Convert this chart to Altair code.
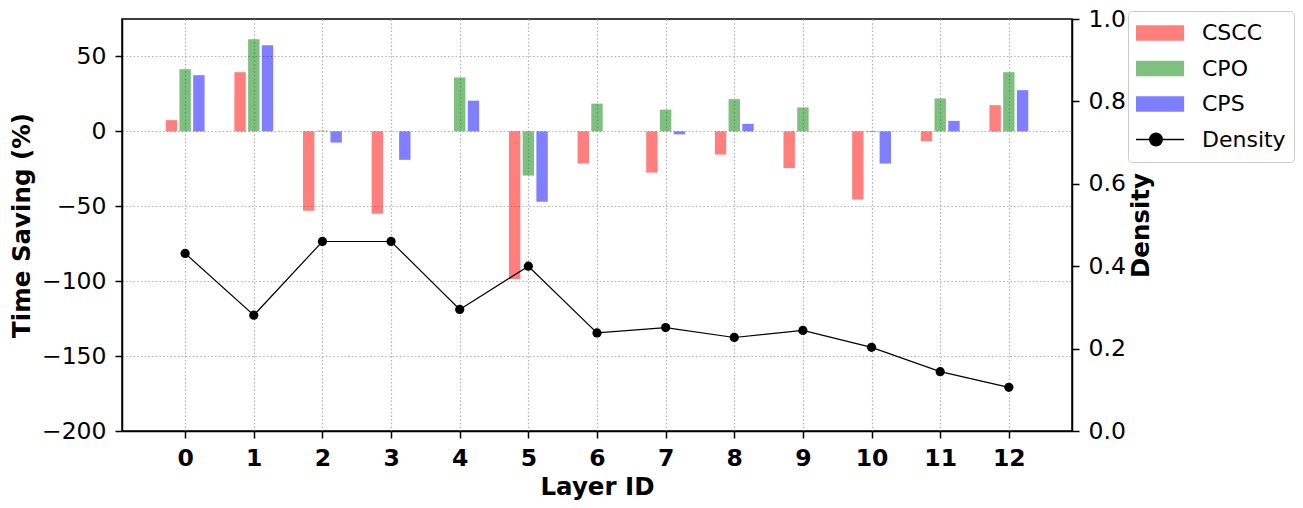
import altair as alt
import pandas as pd

# ---- data ----
layer_ids = list(range(13))
series_names = ["CSCC", "CPO", "CPS"]
cscc = [7.5, 39.5, -53, -55, 0, -98.5, -21.5, -27.5, -15.5, -24.5, -45.5, -6.5, 17.5]
cpo = [41.5, 61.5, 0.5, 0, 36, -29.5, 18.5, 14.5, 21.5, 16, -0.5, 22, 39.5]
cps = [37.5, 57.5, -7.5, -19, 20.5, -47, 0, -2, 5, 0, -21.5, 7, 27.5]
density = [0.431, 0.281, 0.460, 0.460, 0.295, 0.400, 0.238, 0.251, 0.227, 0.244, 0.203, 0.144, 0.106]
left_ticks = [-200, -150, -100, -50, 0, 50]
right_ticks = [0.0, 0.2, 0.4, 0.6, 0.8, 1.0]

rows = []
for name, vals in zip(series_names, [cscc, cpo, cps]):
    for lid, v in zip(layer_ids, vals):
        rows.append({"layer": lid, "series": name, "value": v})
bar_df = pd.DataFrame(rows)
dens_df = pd.DataFrame({"layer": layer_ids, "density": density})

FONT = "DejaVu Sans"
LABEL_SIZE = 23.5
TITLE_SIZE = 24.5
GRID_DASH = [1.5, 2.2]
GRID_COLOR = "#b0b0b0"

x_scale = alt.Scale(domain=[-0.92, 12.92], nice=False, zero=False)
x_axis = alt.Axis(
    title="Layer ID", values=layer_ids, format="d",
    labelFontWeight="bold", labelFontSize=LABEL_SIZE, labelFont=FONT, labelPadding=8,
    titleFontSize=TITLE_SIZE, titleFont=FONT, titleFontWeight="bold", titlePadding=6,
    grid=True, gridDash=GRID_DASH, gridColor=GRID_COLOR, gridWidth=1.2,
)

color_scale = alt.Scale(
    domain=["CSCC", "CPO", "CPS", "Density"],
    range=["#ff0000", "#008000", "#0000ff", "#000000"],
)

bar_path = "M-1.25,-0.34H1.25V0.34H-1.25Z"
dens_path = "M-1.25,0H1.25M0.28,0A0.28,0.28,0,1,1,-0.28,0A0.28,0.28,0,1,1,0.28,0Z"

legend = alt.Legend(
    title=None, orient="none", legendX=1006, legendY=-8,
    padding=8, symbolSize=2025, clipHeight=28, rowPadding=7.5,
    labelFontSize=22, labelFont=FONT, labelColor="black", labelOffset=35,
    labelLimit=300, symbolOffset=9,
    strokeColor="#cccccc", fillColor="white", cornerRadius=4,
    symbolType={"expr": "datum.value === 'Density' ? '" + dens_path + "' : '" + bar_path + "'"},
    symbolStrokeColor={"expr": "datum.value === 'Density' ? 'black' : 'transparent'"},
    symbolStrokeWidth={"expr": "datum.value === 'Density' ? 1.3 : 0"},
    symbolOpacity={"expr": "datum.value === 'Density' ? 1 : 0.5"},
)

bars = (
    alt.Chart(bar_df)
    .transform_calculate(off="indexof(['CSCC','CPO','CPS'], datum.series) * 0.2 - 0.2")
    .transform_calculate(x1="datum.layer + datum.off - 0.083",
                         x2="datum.layer + datum.off + 0.083")
    .mark_bar(opacity=0.5)
    .encode(
        x=alt.X("x1:Q", scale=x_scale, axis=x_axis),
        x2="x2:Q",
        y=alt.Y("value:Q",
                scale=alt.Scale(domain=[-200, 75], nice=False),
                axis=alt.Axis(title="Time Saving (%)", values=left_ticks, format="d",
                              labelFontSize=LABEL_SIZE, labelFont=FONT, labelPadding=9,
                              titleFontSize=TITLE_SIZE, titleFont=FONT, titleFontWeight="bold",
                              titlePadding=7,
                              grid=True, gridDash=GRID_DASH, gridColor=GRID_COLOR,
                              gridWidth=1.2)),
        y2=alt.datum(0),
        color=alt.Color("series:N", scale=color_scale, legend=legend),
    )
)

base = alt.Chart(dens_df).encode(
    x=alt.X("layer:Q", scale=x_scale, axis=x_axis),
    y=alt.Y("density:Q",
            scale=alt.Scale(domain=[0, 1], nice=False),
            axis=alt.Axis(title="Density", orient="right", values=right_ticks, format=".1f",
                          labelFontSize=LABEL_SIZE, labelFont=FONT, labelPadding=9,
                          titleFontSize=TITLE_SIZE, titleFont=FONT, titleFontWeight="bold",
                          titleAngle=270, titleBaseline="top", titlePadding=4, grid=False)),
)
dens_line = base.mark_line(color="black", strokeWidth=1.2)
dens_pts = base.mark_point(filled=True, color="black", size=85, opacity=1)
dens = alt.layer(dens_line, dens_pts)

chart = (
    alt.layer(bars, dens)
    .resolve_scale(y="independent")
    .properties(
        width=950, height=412,
        autosize=alt.AutoSizeParams(type="none"),
        padding={"left": 114, "top": 11, "right": 223, "bottom": 69},
    )
    .configure_view(stroke="black", strokeWidth=1.5)
    .configure_axis(domainColor="black", domainWidth=1.5, tickColor="black",
                    tickWidth=1.5, tickSize=7, labelColor="black", titleColor="black")
)

chart.save("out.html", embed_options={"renderer": "svg", "actions": False})
